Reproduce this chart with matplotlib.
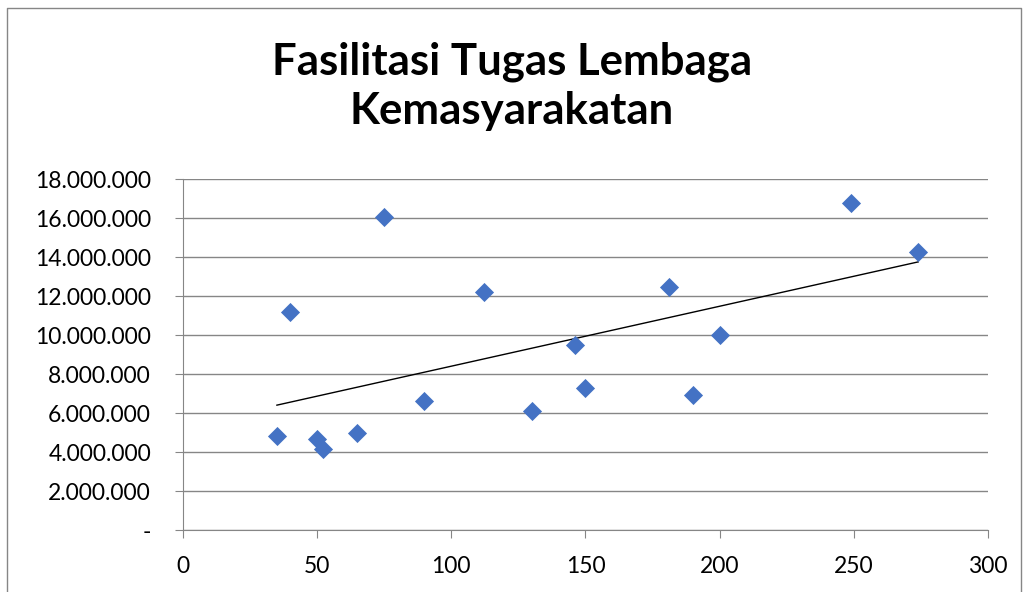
import numpy as np
import matplotlib.pyplot as plt
from matplotlib.lines import Line2D
from matplotlib.ticker import FuncFormatter

# Data
x_vals = [35, 40, 50, 52, 65, 75, 90, 112, 130, 146, 150, 181, 190, 200, 249, 274]
y_vals = [4800000, 11200000, 4650000, 4150000, 4970000, 16050000, 6620000, 12200000,
          6100000, 9500000, 7300000, 12480000, 6900000, 10000000, 16750000, 14250000]
title = 'Fasilitasi Tugas Lembaga\nKemasyarakatan'
x_ticks = [0, 50, 100, 150, 200, 250, 300]
y_ticks = list(range(0, 18000001, 2000000))

plt.rcParams['font.family'] = ['Lato', 'DejaVu Sans']

fig = plt.figure(figsize=(10.24, 5.92), dpi=100)
ax = fig.add_axes([0.1787, 0.1047, 0.7861, 0.5929])

grid_col = '#868686'
ax.scatter(x_vals, y_vals, marker='D', s=95, color='#4472C4', zorder=3, linewidths=0)

# Linear trendline over the data range
slope, intercept = np.polyfit(x_vals, y_vals, 1)
tx = np.array([min(x_vals), max(x_vals)])
ax.plot(tx, slope * tx + intercept, color='black', linewidth=1, zorder=2)

ax.set_xlim(0, 300)
ax.set_ylim(0, 18000000)
ax.set_xticks(x_ticks)
ax.set_yticks(y_ticks)

def fmt_y(v, pos):
    if v == 0:
        return '-'
    return f'{int(v):,}'.replace(',', '.')

ax.yaxis.set_major_formatter(FuncFormatter(fmt_y))
ax.grid(axis='y', color=grid_col, linewidth=1)
ax.set_axisbelow(True)
for s in ['top', 'right']:
    ax.spines[s].set_visible(False)
for s in ['left', 'bottom']:
    ax.spines[s].set_color(grid_col)
ax.tick_params(axis='both', colors=grid_col, labelcolor='black', labelsize=16.5)
ax.tick_params(axis='y', length=6, pad=17)
ax.tick_params(axis='x', length=6, pad=13)

fig.suptitle(title, fontsize=31.5, fontweight='bold', y=0.93, linespacing=1.28)

# chart border
fig.add_artist(Line2D([0.007, 0.007, 0.997, 0.997], [0.0, 0.987, 0.987, 0.0],
                      transform=fig.transFigure, color=grid_col, linewidth=1))

fig.savefig('out.png', dpi=100)
